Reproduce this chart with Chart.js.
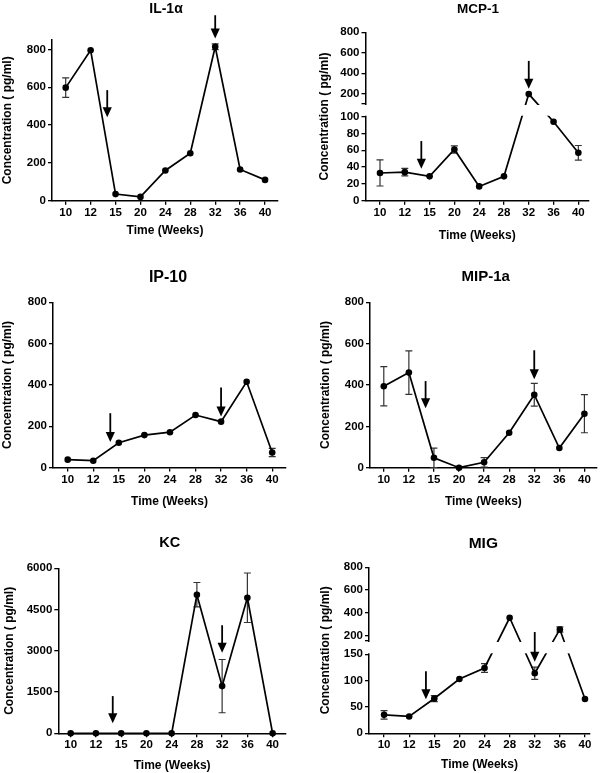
<!DOCTYPE html>
<html><head><meta charset="utf-8">
<script src="https://cdn.jsdelivr.net/npm/chart.js@4.4.1/dist/chart.umd.min.js"></script>
<style>
html,body{margin:0;padding:0;background:#fff;overflow:hidden;width:600px;height:773px;position:relative}
canvas{position:absolute}
</style></head><body>
<script>
// ---------- DATA ----------
const weeks = [10, 12, 15, 20, 24, 28, 32, 36, 40];
const arrowWeeks = [14, 32];

const il1aValues = [598, 796, 35, 20, 160, 251, 814, 165, 110];
const il1aErrors = [52, null, null, null, null, null, 15, null, null];
const il1aArrowTip = [441, 858];
const il1aArrowTop = [585, 981];

const mcp1Values = [33, 34, 29, 61, 17, 29, 197, 94, 57];
const mcp1Errors = [15.5, 4.5, null, 4.3, null, null, null, null, 8.7];
const mcp1ArrowTip = [38, 248];
const mcp1ArrowTop = [71, 521];

const ip10Values = [38, 33, 120, 157, 171, 254, 222, 415, 73];
const ip10Errors = [null, null, null, null, null, null, null, null, 20];
const ip10ArrowTip = [124, 247];
const ip10ArrowTop = [263, 388];

const mip1aValues = [394, 460, 48, 0, 26, 169, 353, 95, 261];
const mip1aErrors = [95, 105, 47, null, 23, null, 55, null, 92];
const mip1aArrowTip = [287, 428];
const mip1aArrowTop = [419, 568];

const kcValues = [0, 0, 0, 0, 0, 5040, 1716, 4930, 0];
const kcErrors = [null, null, null, null, null, 443, 968, 900, null];
const kcArrowTip = [363, 2925];
const kcArrowTop = [1353, 3930];

const migValues = [35, 32, 66, 103, 124, 355, 114, 252, 65];
const migErrors = [8, null, 5.7, null, 8.3, null, 11.5, 23, null];
const migArrowTip = [64.5, 136];
const migArrowTop = [118, 229];

const yTicks800 = [0, 200, 400, 600, 800];
const kcTicks = [0, 1500, 3000, 4500, 6000];
const mcp1LowTicks = [0, 20, 40, 60, 80, 100];
const mcp1HighTicks = [200, 400, 600, 800];
const migLowTicks = [0, 50, 100, 150];
const migHighTicks = [200, 400, 600, 800];

// ---------- BROKEN AXIS SCALE ----------
class BrokenScale extends Chart.LinearScale {
  _segs() {
    const b = this._brk, H = this.bottom - this.top;
    const lowPx = H * b.lowFrac, gapPx = H * b.gapFrac;
    return {b, lowPx, gapPx, upPx: H - lowPx - gapPx};
  }
  getPixelForValue(v) {
    if (!this._brk) return super.getPixelForValue(v);
    const {b, lowPx, gapPx, upPx} = this._segs();
    if (v <= b.low) return this.bottom - (v - this.min) / (b.low - this.min) * lowPx;
    return this.bottom - lowPx - gapPx - (v - b.high) / (this.max - b.high) * upPx;
  }
  getPixelForTick(i) {
    const t = this.ticks[i];
    if (this._brk && t && t.brkEdge) {
      const {lowPx, gapPx} = this._segs();
      return this.bottom - lowPx - gapPx;
    }
    return super.getPixelForTick(i);
  }
}
BrokenScale.id = 'broken';
Chart.register(BrokenScale);

const FONT = '"Liberation Sans", Arial, Helvetica, sans-serif';
Chart.defaults.font.family = FONT;
Chart.defaults.color = '#000';

function weekToIndex(w) {
  for (let i = 0; i < weeks.length - 1; i++) {
    if (w >= weeks[i] && w <= weeks[i + 1]) return i + (w - weeks[i]) / (weeks[i + 1] - weeks[i]);
  }
  return weeks.indexOf(w);
}

function decoPlugin(p) {
  return {
    id: 'deco',
    beforeDatasetsDraw(chart) {
      const ctx = chart.ctx, xs = chart.scales.x, ys = chart.scales.y;
      ctx.save();
      ctx.strokeStyle = '#333';
      ctx.lineWidth = 1.2;
      p.values.forEach((v, i) => {
        const e = p.errors[i];
        if (e == null) return;
        const x = xs.getPixelForValue(i);
        const y1 = ys.getPixelForValue(v + e), y2 = ys.getPixelForValue(Math.max(0, v - e));
        ctx.beginPath();
        ctx.moveTo(x, y1); ctx.lineTo(x, y2);
        ctx.moveTo(x - 3.5, y1); ctx.lineTo(x + 3.5, y1);
        ctx.moveTo(x - 3.5, y2); ctx.lineTo(x + 3.5, y2);
        ctx.stroke();
      });
      ctx.restore();
    },
    afterDatasetsDraw(chart) {
      const ctx = chart.ctx, xs = chart.scales.x, ys = chart.scales.y, ca = chart.chartArea;
      ctx.save();
      if (p.brk) {
        const H = ys.bottom - ys.top;
        const lowTop = ys.bottom - H * p.brk.lowFrac;
        const upBot = lowTop - H * p.brk.gapFrac;
        ctx.fillStyle = '#fff';
        ctx.fillRect(ca.left - 2, upBot + 1, ca.right - ca.left + 4, lowTop - upBot - 2);
      }
      ctx.fillStyle = '#000';
      ctx.strokeStyle = '#000';
      ctx.lineWidth = 1.8;
      arrowWeeks.forEach((w, k) => {
        const x = xs.getPixelForValue(weekToIndex(w));
        const yTip = ys.getPixelForValue(p.arrowTip[k]);
        const yTop = ys.getPixelForValue(p.arrowTop[k]);
        const hh = 10, hw = 4.6;
        ctx.beginPath();
        ctx.moveTo(x, yTop); ctx.lineTo(x, yTip - hh + 1);
        ctx.stroke();
        ctx.beginPath();
        ctx.moveTo(x - hw, yTip - hh); ctx.lineTo(x + hw, yTip - hh); ctx.lineTo(x, yTip);
        ctx.closePath(); ctx.fill();
      });
      ctx.restore();
    },
    afterDraw(chart) {
      const ctx = chart.ctx;
      ctx.save();
      ctx.fillStyle = '#000';
      ctx.font = 'bold ' + p.titleSize + 'px ' + FONT;
      ctx.textAlign = 'center';
      ctx.textBaseline = 'middle';
      ctx.fillText(p.title, p.titleX - p.x0, p.titleY - p.y0);
      ctx.restore();
    }
  };
}

function makePanel(p) {
  const cv = document.createElement('canvas');
  cv.width = p.w; cv.height = p.h;
  cv.style.left = p.x0 + 'px'; cv.style.top = p.y0 + 'px';
  cv.style.width = p.w + 'px'; cv.style.height = p.h + 'px';
  document.body.appendChild(cv);
  const L = p.L - p.x0, R = p.R - p.x0, T = p.T - p.y0, B = p.B - p.y0;
  const tickFont = {family: FONT, size: 11.5, weight: 'bold'};
  const axTitleFont = {family: FONT, size: 12, weight: 'bold', lineHeight: 1.2};
  const yTickList = p.brk
    ? [...p.lowTicks.map(v => ({value: v})), {value: p.brk.high, brkEdge: true}, ...p.highTicks.map(v => ({value: v}))]
    : p.yTicks.map(v => ({value: v}));
  const gridOpt = {display: true, drawOnChartArea: false, drawTicks: true, tickLength: 4, color: '#000', lineWidth: 1.3};
  const borderOpt = {display: true, color: '#000', width: 1.5};
  new Chart(cv, {
    type: 'line',
    data: {
      datasets: [{
        data: p.values.map((v, i) => ({x: i, y: v})),
        borderColor: '#000', borderWidth: 1.7,
        pointRadius: 3.3, pointHoverRadius: 3.3,
        pointBackgroundColor: '#000', pointBorderColor: '#000', pointBorderWidth: 0,
        tension: 0, clip: false
      }]
    },
    options: {
      responsive: false, animation: false, events: [], devicePixelRatio: 1,
      layout: {padding: {left: 0, top: T, right: p.w - R, bottom: 0}},
      plugins: {legend: {display: false}, tooltip: {enabled: false}, title: {display: false}},
      scales: {
        x: {
          type: 'linear', min: p.xMin, max: p.xMax, bounds: 'data',
          afterBuildTicks: s => { s.ticks = weeks.map((w, i) => ({value: i})); },
          afterFit: s => { s.height = p.h - B; },
          ticks: {autoSkip: false, maxRotation: 0, padding: 1, color: '#000', font: tickFont,
                  callback: v => String(weeks[v])},
          grid: gridOpt, border: borderOpt,
          title: {display: true, text: 'Time (Weeks)', color: '#000', font: axTitleFont,
                  padding: {top: 0, bottom: p.h - (p.xTitleY - p.y0) - 7.2}}
        },
        y: {
          type: p.brk ? 'broken' : 'linear', min: 0, max: p.yMax, bounds: 'data',
          afterDataLimits: s => { s._brk = p.brk || null; },
          afterBuildTicks: s => { s.ticks = yTickList.map(t => Object.assign({}, t)); },
          afterFit: s => { s.width = L; },
          ticks: {autoSkip: false, padding: 2, color: '#000', font: tickFont,
                  callback: (v, i, ts) => (ts[i] && ts[i].brkEdge) ? '' : String(v)},
          grid: gridOpt, border: borderOpt,
          title: {display: true, text: 'Concentration ( pg/ml)', color: '#000', font: axTitleFont,
                  padding: {top: (p.yTitleX - p.x0) - 7.2, bottom: 0}}
        }
      }
    },
    plugins: [decoPlugin(p)]
  });
}

// ---------- PANELS ----------
makePanel({title: 'IL-1\u03b1', titleSize: 14, titleX: 166, titleY: 9.5,
  x0: 0, y0: 0, w: 290, h: 245, L: 52, R: 278, T: 40, B: 200.7, yTitleX: 8, xTitleY: 231,
  xMin: -0.55, xMax: 8.52, yMax: 850, yTicks: yTicks800,
  values: il1aValues, errors: il1aErrors, arrowTip: il1aArrowTip, arrowTop: il1aArrowTop});

makePanel({title: 'MCP-1', titleSize: 13.5, titleX: 478, titleY: 9.5,
  x0: 300, y0: 0, w: 297, h: 250, L: 365.5, R: 589, T: 32.3, B: 200.7, yTitleX: 324.7, xTitleY: 235.5,
  xMin: -0.585, xMax: 8.43, yMax: 800,
  brk: {low: 100, high: 100, lowFrac: 0.4988, gapFrac: 0.0754},
  lowTicks: mcp1LowTicks, highTicks: mcp1HighTicks,
  values: mcp1Values, errors: mcp1Errors, arrowTip: mcp1ArrowTip, arrowTop: mcp1ArrowTop});

makePanel({title: 'IP-10', titleSize: 16, titleX: 168, titleY: 277.5,
  x0: 0, y0: 255, w: 296, h: 260, L: 53, R: 286, T: 302.3, B: 467.5, yTitleX: 8, xTitleY: 501.5,
  xMin: -0.575, xMax: 8.54, yMax: 800, yTicks: yTicks800,
  values: ip10Values, errors: ip10Errors, arrowTip: ip10ArrowTip, arrowTop: ip10ArrowTop});

makePanel({title: 'MIP-1a', titleSize: 15, titleX: 485.7, titleY: 276.5,
  x0: 300, y0: 255, w: 300, h: 260, L: 370, R: 600, T: 302.3, B: 467.7, yTitleX: 325.3, xTitleY: 501.5,
  xMin: -0.55, xMax: 8.49, yMax: 800, yTicks: yTicks800,
  values: mip1aValues, errors: mip1aErrors, arrowTip: mip1aArrowTip, arrowTop: mip1aArrowTop});

makePanel({title: 'KC', titleSize: 14.5, titleX: 169.7, titleY: 543.3,
  x0: 0, y0: 520, w: 296, h: 253, L: 58.3, R: 286, T: 568.3, B: 733.3, yTitleX: 9.3, xTitleY: 765.5,
  xMin: -0.49, xMax: 8.53, yMax: 6000, yTicks: kcTicks,
  values: kcValues, errors: kcErrors, arrowTip: kcArrowTip, arrowTop: kcArrowTop});

makePanel({title: 'MIG', titleSize: 15.5, titleX: 483.3, titleY: 543.3,
  x0: 300, y0: 520, w: 300, h: 253, L: 369, R: 590, T: 567.3, B: 733.3, yTitleX: 325.3, xTitleY: 764.5,
  xMin: -0.6, xMax: 8.2, yMax: 800,
  brk: {low: 150, high: 150, lowFrac: 0.4759, gapFrac: 0.0801},
  lowTicks: migLowTicks, highTicks: migHighTicks,
  values: migValues, errors: migErrors, arrowTip: migArrowTip, arrowTop: migArrowTop});
</script>
</body></html>
